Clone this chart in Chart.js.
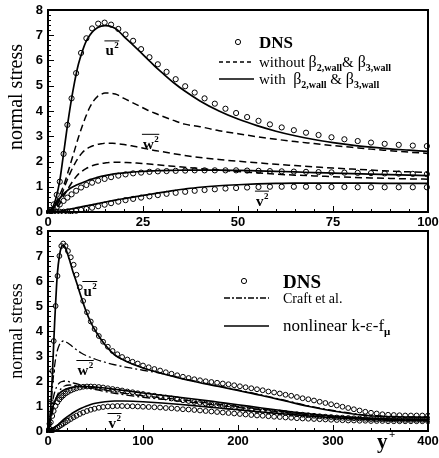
<!DOCTYPE html>
<html>
<head>
<meta charset="utf-8">
<script src="https://cdn.jsdelivr.net/npm/chart.js@4.4.0/dist/chart.umd.min.js"></script>
<style>
  html, body { margin: 0; padding: 0; background: #fff; }
  #wrap { position: relative; width: 439px; height: 458px; overflow: hidden; }
  canvas { position: absolute; left: 0; }
  #chart-top { top: 0; }
  #chart-bottom { top: 221px; }
</style>
</head>
<body>
<div id="wrap">
  <canvas id="chart-top" width="439" height="229"></canvas>
  <canvas id="chart-bottom" width="439" height="237"></canvas>
</div>
<script>
// ============================================================
// DATA — top panel (y+ 0..100)
// ============================================================
const TOP_DNS_X = [0.3, 0.8, 1.5, 2.3, 3.1, 4.1, 5.1, 6.2, 7.4, 8.7,
  10.1, 11.6, 13.2, 14.9, 16.6, 18.5, 20.4, 22.4, 24.5, 26.7,
  28.9, 31.2, 33.6, 36.1, 38.6, 41.2, 43.9, 46.7, 49.5, 52.4,
  55.4, 58.4, 61.5, 64.7, 67.9, 71.2, 74.6, 78, 81.5, 85,
  88.6, 92.3, 96, 99.7];
const TOP_DNS_U = [0.01, 0.08, 0.3, 0.68, 1.2, 2.3, 3.45, 4.5, 5.5, 6.3,
  6.88, 7.27, 7.46, 7.5, 7.42, 7.25, 7.03, 6.78, 6.45, 6.13,
  5.85, 5.55, 5.26, 4.98, 4.73, 4.5, 4.29, 4.09, 3.92, 3.76,
  3.61, 3.47, 3.35, 3.24, 3.14, 3.05, 2.96, 2.88, 2.81, 2.75,
  2.7, 2.66, 2.63, 2.61];
const TOP_DNS_W = [0, 0.03, 0.1, 0.2, 0.3, 0.44, 0.57, 0.7, 0.84, 0.97,
  1.07, 1.16, 1.24, 1.31, 1.38, 1.44, 1.49, 1.53, 1.56, 1.59,
  1.61, 1.62, 1.63, 1.64, 1.65, 1.65, 1.65, 1.65, 1.65, 1.64,
  1.63, 1.62, 1.61, 1.6, 1.59, 1.58, 1.57, 1.56, 1.55, 1.54,
  1.53, 1.52, 1.51, 1.5];
const TOP_DNS_V = [0, 0, 0, 0, 0.01, 0.01, 0.02, 0.03, 0.05, 0.08,
  0.12, 0.17, 0.23, 0.29, 0.35, 0.41, 0.47, 0.52, 0.57, 0.62,
  0.67, 0.72, 0.76, 0.8, 0.84, 0.87, 0.9, 0.93, 0.95, 0.97,
  0.99, 1.0, 1.0, 1.0, 1.0, 0.99, 0.99, 0.99, 0.98, 0.98,
  0.98, 0.98, 0.98, 0.98];

const TOP_LINE_X = [0, 1, 2, 3, 4, 5, 6, 7, 8, 9,
  10, 11, 12, 13, 14, 15, 16, 17, 18, 20,
  22, 24, 26, 28, 30, 33, 36, 40, 45, 50,
  55, 60, 65, 70, 75, 80, 85, 90, 95, 100];
// with beta_2,wall & beta_3,wall (solid)
const TOP_WITH_U = [0, 0.12, 0.5, 1.15, 2.2, 3.3, 4.3, 5.15, 5.85, 6.35,
  6.75, 7.0, 7.18, 7.3, 7.36, 7.38, 7.37, 7.32, 7.24, 6.95,
  6.67, 6.38, 6.08, 5.79, 5.52, 5.13, 4.79, 4.4, 4.0, 3.68,
  3.42, 3.2, 3.02, 2.87, 2.75, 2.65, 2.57, 2.5, 2.45, 2.4];
const TOP_WITH_W = [0, 0.08, 0.3, 0.52, 0.7, 0.84, 0.95, 1.03, 1.1, 1.16,
  1.22, 1.28, 1.32, 1.37, 1.41, 1.44, 1.47, 1.5, 1.52, 1.55,
  1.58, 1.6, 1.62, 1.63, 1.64, 1.65, 1.66, 1.66, 1.66, 1.65,
  1.63, 1.61, 1.59, 1.56, 1.54, 1.52, 1.5, 1.48, 1.46, 1.44];
const TOP_WITH_V = [0, 0, 0.01, 0.03, 0.06, 0.09, 0.12, 0.15, 0.18, 0.21,
  0.24, 0.27, 0.3, 0.33, 0.36, 0.39, 0.42, 0.45, 0.48, 0.53,
  0.58, 0.63, 0.68, 0.73, 0.78, 0.85, 0.91, 0.98, 1.04, 1.08,
  1.11, 1.13, 1.14, 1.14, 1.14, 1.14, 1.14, 1.13, 1.13, 1.13];
// without the wall terms (dashed)
const TOP_WITHOUT_U = [0, 0.1, 0.35, 0.65, 1.0, 1.45, 1.95, 2.45, 2.95, 3.4,
  3.8, 4.15, 4.4, 4.57, 4.66, 4.71, 4.71, 4.69, 4.66, 4.5,
  4.35, 4.2, 4.05, 3.92, 3.8, 3.63, 3.48, 3.38, 3.22, 3.1,
  2.98, 2.88, 2.79, 2.71, 2.63, 2.56, 2.49, 2.43, 2.37, 2.32];
const TOP_WITHOUT_W = [0, 0.05, 0.2, 0.45, 0.85, 1.25, 1.6, 1.9, 2.15, 2.35,
  2.48, 2.57, 2.63, 2.68, 2.7, 2.72, 2.72, 2.72, 2.71, 2.67,
  2.62, 2.56, 2.5, 2.44, 2.39, 2.31, 2.24, 2.16, 2.08, 2.01,
  1.95, 1.89, 1.84, 1.79, 1.74, 1.7, 1.66, 1.62, 1.59, 1.56];
const TOP_WITHOUT_V = [0, 0.03, 0.12, 0.3, 0.6, 0.85, 1.1, 1.32, 1.5, 1.62,
  1.72, 1.79, 1.85, 1.89, 1.92, 1.94, 1.96, 1.97, 1.97, 1.96,
  1.95, 1.93, 1.91, 1.88, 1.85, 1.81, 1.77, 1.72, 1.66, 1.6,
  1.55, 1.5, 1.46, 1.43, 1.4, 1.37, 1.35, 1.33, 1.31, 1.3];

// ============================================================
// DATA — bottom panel (y+ 0..400)
// ============================================================
const BOT_DNS_X = [0.5, 1.5, 3, 4.5, 6, 8, 10, 12, 14, 16,
  18.5, 21, 24, 27, 30, 33.5, 37, 41, 45, 49,
  53.5, 58, 63, 68, 73, 78, 83.5, 89, 94.5, 100,
  106, 112, 118, 124, 130, 136, 142, 148, 154, 160,
  166, 172, 178, 184, 190, 196, 202, 208, 214, 220,
  226, 232, 238, 244, 250, 256, 262, 268, 274, 280,
  286, 292, 298, 304, 310, 316, 322, 328, 334, 340,
  346, 352, 358, 364, 370, 376, 382, 388, 394, 400];
const BOT_DNS_U = [0.03, 0.29, 1.17, 2.4, 3.6, 5.0, 6.2, 7.0, 7.4, 7.5,
  7.4, 7.2, 6.95, 6.65, 6.25, 5.75, 5.2, 4.75, 4.38, 4.08,
  3.8, 3.57, 3.37, 3.2, 3.07, 2.96, 2.86, 2.77, 2.7, 2.62,
  2.55, 2.48, 2.42, 2.35, 2.29, 2.23, 2.17, 2.12, 2.07, 2.03,
  1.99, 1.96, 1.93, 1.9, 1.87, 1.83, 1.79, 1.75, 1.71, 1.67,
  1.63, 1.58, 1.54, 1.5, 1.45, 1.41, 1.36, 1.31, 1.27, 1.22,
  1.17, 1.12, 1.07, 1.02, 0.97, 0.92, 0.87, 0.82, 0.77, 0.73,
  0.7, 0.67, 0.65, 0.64, 0.63, 0.62, 0.62, 0.62, 0.62, 0.62];
const BOT_DNS_W = [0.01, 0.1, 0.35, 0.6, 0.8, 1.0, 1.15, 1.26, 1.35, 1.42,
  1.5, 1.56, 1.62, 1.67, 1.71, 1.74, 1.77, 1.78, 1.78, 1.77,
  1.76, 1.74, 1.71, 1.68, 1.65, 1.62, 1.58, 1.55, 1.51, 1.48,
  1.44, 1.41, 1.37, 1.34, 1.3, 1.27, 1.23, 1.2, 1.16, 1.13,
  1.1, 1.07, 1.03, 1.0, 0.97, 0.94, 0.91, 0.88, 0.85, 0.82,
  0.8, 0.78, 0.76, 0.74, 0.72, 0.69, 0.67, 0.65, 0.63, 0.61,
  0.59, 0.57, 0.56, 0.54, 0.53, 0.52, 0.51, 0.5, 0.49, 0.48,
  0.47, 0.47, 0.46, 0.46, 0.45, 0.45, 0.45, 0.45, 0.45, 0.45];
const BOT_DNS_V = [0, 0, 0.01, 0.03, 0.05, 0.09, 0.14, 0.19, 0.24, 0.29,
  0.35, 0.41, 0.48, 0.55, 0.61, 0.68, 0.74, 0.8, 0.85, 0.89,
  0.93, 0.96, 0.98, 0.99, 1.0, 1.0, 0.99, 0.99, 0.98, 0.97,
  0.96, 0.95, 0.94, 0.92, 0.91, 0.89, 0.87, 0.86, 0.84, 0.82,
  0.8, 0.78, 0.76, 0.74, 0.72, 0.7, 0.68, 0.66, 0.64, 0.62,
  0.61, 0.59, 0.57, 0.56, 0.54, 0.53, 0.51, 0.5, 0.49, 0.48,
  0.47, 0.46, 0.45, 0.44, 0.43, 0.42, 0.42, 0.41, 0.41, 0.4,
  0.4, 0.4, 0.39, 0.39, 0.39, 0.39, 0.39, 0.39, 0.39, 0.39];

const BOT_LINE_X = [0, 1, 2, 3, 4, 5, 6, 7, 8, 9,
  10, 12, 14, 16, 18, 20, 23, 26, 30, 35,
  40, 45, 50, 60, 70, 80, 90, 100, 120, 140,
  160, 180, 200, 225, 250, 275, 300, 325, 350, 375,
  400];
// nonlinear k-eps-f_mu (solid)
const BOT_NL_U = [0, 0.1, 0.45, 1.0, 1.75, 2.6, 3.5, 4.35, 5.1, 5.8,
  6.35, 7.0, 7.35, 7.42, 7.35, 7.15, 6.8, 6.4, 5.95, 5.35,
  4.8, 4.35, 4.0, 3.45, 3.05, 2.83, 2.66, 2.52, 2.3, 2.1,
  1.93, 1.78, 1.62, 1.42, 1.2, 0.98, 0.8, 0.66, 0.58, 0.56,
  0.55];
const BOT_NL_W = [0, 0.12, 0.35, 0.58, 0.78, 0.95, 1.08, 1.18, 1.27, 1.34,
  1.4, 1.5, 1.57, 1.62, 1.66, 1.69, 1.73, 1.75, 1.77, 1.78,
  1.78, 1.77, 1.76, 1.72, 1.67, 1.62, 1.57, 1.52, 1.43, 1.34,
  1.25, 1.15, 1.05, 0.92, 0.8, 0.69, 0.6, 0.54, 0.5, 0.48,
  0.47];
const BOT_NL_V = [0, 0, 0.01, 0.03, 0.05, 0.08, 0.11, 0.14, 0.17, 0.2,
  0.23, 0.3, 0.37, 0.44, 0.5, 0.56, 0.64, 0.72, 0.81, 0.91,
  0.99, 1.06, 1.11, 1.17, 1.2, 1.2, 1.19, 1.17, 1.12, 1.06,
  0.99, 0.92, 0.85, 0.76, 0.68, 0.6, 0.53, 0.48, 0.44, 0.42,
  0.41];
// Craft et al. (dash-dot)
const BOT_CRAFT_A = [0, 0.15, 0.5, 0.95, 1.45, 1.9, 2.3, 2.62, 2.88, 3.08,
  3.24, 3.45, 3.56, 3.6, 3.58, 3.54, 3.46, 3.37, 3.25, 3.12,
  3.02, 2.94, 2.87, 2.75, 2.65, 2.57, 2.5, 2.43, 2.3, 2.12,
  1.95, 1.8, 1.64, 1.44, 1.22, 1.0, 0.82, 0.68, 0.6, 0.57,
  0.56];
const BOT_CRAFT_B = [0, 0.1, 0.35, 0.65, 0.95, 1.2, 1.4, 1.55, 1.67, 1.76,
  1.83, 1.92, 1.97, 1.99, 2.0, 1.99, 1.96, 1.93, 1.89, 1.84,
  1.8, 1.76, 1.72, 1.64, 1.57, 1.51, 1.46, 1.41, 1.33, 1.25,
  1.16, 1.07, 0.98, 0.87, 0.76, 0.66, 0.58, 0.52, 0.48, 0.46,
  0.45];
const BOT_CRAFT_C = [0, 0.05, 0.2, 0.4, 0.6, 0.8, 0.97, 1.12, 1.25, 1.36,
  1.45, 1.6, 1.7, 1.77, 1.81, 1.83, 1.84, 1.83, 1.81, 1.78,
  1.74, 1.7, 1.66, 1.58, 1.51, 1.45, 1.4, 1.35, 1.27, 1.19,
  1.11, 1.02, 0.94, 0.84, 0.74, 0.64, 0.57, 0.51, 0.47, 0.45,
  0.44];

// ============================================================
// Shared styles
// ============================================================
const SANS = "'Liberation Sans', Arial, Helvetica, sans-serif";
const SERIF = "'Liberation Serif', 'Times New Roman', Times, serif";
const tickFont = { family: SANS, size: 13, weight: "bold" };

const pts = (xs, ys) => xs.map((x, i) => ({ x, y: ys[i] }));

function dns(xs, ys, r) {
  return {
    data: pts(xs, ys), showLine: false,
    pointStyle: "circle", pointRadius: r, pointBorderWidth: 1,
    pointBorderColor: "#000", pointBackgroundColor: "rgba(0,0,0,0)"
  };
}
function curve(xs, ys, dash, width) {
  return {
    data: pts(xs, ys), showLine: true, pointRadius: 0,
    borderColor: "#000", borderWidth: width, borderDash: dash,
    cubicInterpolationMode: "monotone", fill: false
  };
}

// ============================================================
// Text helpers (subscripts, overlined labels)
// ============================================================
function drawParts(ctx, parts, x, y) {
  parts.forEach(([t, size, weight, dy]) => {
    ctx.font = `${weight} ${size}px ${SERIF}`;
    ctx.fillText(t, x, y + dy);
    x += ctx.measureText(t).width;
  });
  return x;
}

function drawOverlined(ctx, letter, cx, cy) {
  ctx.font = `bold 15px ${SERIF}`;
  const w1 = ctx.measureText(letter).width;
  ctx.font = `bold 9px ${SERIF}`;
  const w2 = ctx.measureText("2").width;
  const left = cx - (w1 + w2) / 2;
  ctx.font = `bold 15px ${SERIF}`;
  ctx.fillText(letter, left, cy + 5);
  ctx.font = `bold 9px ${SERIF}`;
  ctx.fillText("2", left + w1 + 0.5, cy - 2);
  ctx.lineWidth = 1;
  ctx.setLineDash([]);
  ctx.beginPath();
  ctx.moveTo(left - 1, cy - 9.5);
  ctx.lineTo(left + w1 + w2 + 1, cy - 9.5);
  ctx.stroke();
}

function seg(ctx, x1, y1, x2, y2) {
  ctx.beginPath(); ctx.moveTo(x1, y1); ctx.lineTo(x2, y2); ctx.stroke();
}

// ============================================================
// Plugin: frame, inward ticks, axis title, legend, curve labels
// ============================================================
const panelDecor = {
  id: "panelDecor",
  afterDraw(chart, args, o) {
    const { ctx, chartArea: a, scales: { x, y } } = chart;
    ctx.save();
    ctx.strokeStyle = "#000";
    ctx.fillStyle = "#000";

    // inward ticks
    ctx.lineWidth = 1;
    for (let v = 0; v <= x.max + 1e-9; v += o.xMinor) {
      const px = Math.round(x.getPixelForValue(v)) + 0.5;
      const major = Math.abs(v / o.xMajor - Math.round(v / o.xMajor)) < 1e-6;
      seg(ctx, px, a.bottom, px, a.bottom - (major ? 6 : 3));
    }
    for (let v = 0; v <= y.max + 1e-9; v += o.yMinor) {
      const py = Math.round(y.getPixelForValue(v)) + 0.5;
      const major = Math.abs(v - Math.round(v)) < 1e-6;
      seg(ctx, a.left, py, a.left + (major ? 6 : 3), py);
    }

    // frame
    ctx.lineWidth = 2;
    ctx.strokeRect(a.left, a.top, a.right - a.left, a.bottom - a.top);

    // y axis title
    ctx.save();
    ctx.translate(o.title.x, o.title.y);
    ctx.rotate(-Math.PI / 2);
    ctx.font = `${o.title.size}px ${SERIF}`;
    ctx.textAlign = "center";
    ctx.textBaseline = "middle";
    ctx.fillText("normal stress", 0, 0);
    ctx.restore();

    ctx.textAlign = "left";
    ctx.textBaseline = "alphabetic";

    // legend
    const L = o.legend;
    ctx.lineWidth = 1;
    ctx.setLineDash([]);
    ctx.beginPath();
    ctx.arc(L.markX, L.row1, 2.6, 0, Math.PI * 2);
    ctx.stroke();
    drawParts(ctx, [["DNS", L.dnsSize, "bold", 0]], L.textX, L.row1 + L.dnsSize * 0.35);
    ctx.lineWidth = 1.3;
    ctx.setLineDash(L.dash2);
    seg(ctx, L.lineX1, L.row2, L.lineX2, L.row2);
    ctx.setLineDash([]);
    ctx.lineWidth = 1.6;
    seg(ctx, L.lineX1, L.row3, L.lineX2, L.row3);
    drawParts(ctx, L.text2, L.textX, L.row2 + 5);
    drawParts(ctx, L.text3, L.textX, L.row3 + 5);

    // curve labels
    o.labels.forEach(l => {
      drawOverlined(ctx, l.t, x.getPixelForValue(l.x), y.getPixelForValue(l.y));
    });

    // x axis label (bottom panel only)
    if (o.xLabel) {
      drawParts(ctx, [["y", 21, "bold", 0]], o.xLabel.x, o.xLabel.y);
      drawParts(ctx, [["+", 11, "bold", 0]], o.xLabel.x + 12, o.xLabel.y - 10);
    }
    ctx.restore();
  }
};

function axes(xMax, xStep, xHeight) {
  return {
    x: {
      type: "linear", min: 0, max: xMax,
      ticks: { stepSize: xStep, color: "#000", font: tickFont, padding: 3, maxRotation: 0 },
      grid: { display: false, drawTicks: false },
      border: { display: false },
      afterFit(s) { s.height = xHeight; s.paddingLeft = 0; s.paddingRight = 0; }
    },
    y: {
      type: "linear", min: 0, max: 8,
      ticks: { stepSize: 1, color: "#000", font: tickFont, padding: 5 },
      grid: { display: false, drawTicks: false },
      border: { display: false },
      afterFit(s) { s.width = 48; s.paddingTop = 0; s.paddingBottom = 0; }
    }
  };
}

function baseOptions(extra) {
  return {
    responsive: false,
    animation: false,
    devicePixelRatio: 1,
    clip: 2,
    ...extra
  };
}

// ============================================================
// TOP PANEL
// ============================================================
const dashA = [7, 4];
new Chart(document.getElementById("chart-top"), {
  type: "scatter",
  data: {
    datasets: [
      curve(TOP_LINE_X, TOP_WITHOUT_U, dashA, 1.5),
      curve(TOP_LINE_X, TOP_WITHOUT_W, dashA, 1.5),
      curve(TOP_LINE_X, TOP_WITHOUT_V, dashA, 1.5),
      curve(TOP_LINE_X, TOP_WITH_U, [], 1.7),
      curve(TOP_LINE_X, TOP_WITH_W, [], 1.7),
      curve(TOP_LINE_X, TOP_WITH_V, [], 1.7),
      dns(TOP_DNS_X, TOP_DNS_U, 2.6),
      dns(TOP_DNS_X, TOP_DNS_W, 2.6),
      dns(TOP_DNS_X, TOP_DNS_V, 2.6)
    ]
  },
  options: baseOptions({
    layout: { padding: { top: 10, right: 11, left: 0, bottom: 0 } },
    scales: axes(100, 25, 17),
    plugins: {
      legend: { display: false },
      tooltip: { enabled: false },
      panelDecor: {
        xMajor: 25, xMinor: 5, yMinor: 0.2,
        title: { x: 17, y: 97, size: 20 },
        legend: {
          markX: 238, textX: 259, lineX1: 219, lineX2: 254,
          row1: 42, row2: 62, row3: 79, dnsSize: 17, dash2: [4, 3],
          text2: [["without ", 15, "normal", 0], ["\u03b2", 16, "normal", 0], ["2,wall", 10, "bold", 4],
                  ["&", 15, "normal", 0], [" \u03b2", 16, "normal", 0], ["3,wall", 10, "bold", 4]],
          text3: [["with  ", 15, "normal", 0], ["\u03b2", 16, "normal", 0], ["2,wall", 10, "bold", 4],
                  [" & ", 15, "normal", 0], ["\u03b2", 16, "normal", 0], ["3,wall", 10, "bold", 4]]
        },
        labels: [
          { t: "u", x: 16.8, y: 6.4 },
          { t: "w", x: 27, y: 2.7 },
          { t: "v", x: 56.3, y: 0.45 }
        ]
      }
    }
  }),
  plugins: [panelDecor]
});

// ============================================================
// BOTTOM PANEL
// ============================================================
const dashDot = [8, 3, 2, 3];
new Chart(document.getElementById("chart-bottom"), {
  type: "scatter",
  data: {
    datasets: [
      curve(BOT_LINE_X, BOT_CRAFT_A, dashDot, 1.3),
      curve(BOT_LINE_X, BOT_CRAFT_B, dashDot, 1.3),
      curve(BOT_LINE_X, BOT_CRAFT_C, dashDot, 1.3),
      curve(BOT_LINE_X, BOT_NL_U, [], 1.7),
      curve(BOT_LINE_X, BOT_NL_W, [], 1.7),
      curve(BOT_LINE_X, BOT_NL_V, [], 1.7),
      dns(BOT_DNS_X, BOT_DNS_U, 2.4),
      dns(BOT_DNS_X, BOT_DNS_W, 2.4),
      dns(BOT_DNS_X, BOT_DNS_V, 2.4)
    ]
  },
  options: baseOptions({
    layout: { padding: { top: 10, right: 11, left: 0, bottom: 0 } },
    scales: axes(400, 100, 27),
    plugins: {
      legend: { display: false },
      tooltip: { enabled: false },
      panelDecor: {
        xMajor: 100, xMinor: 20, yMinor: 0.2,
        title: { x: 17, y: 110, size: 18 },
        legend: {
          markX: 244, textX: 283, lineX1: 224, lineX2: 269,
          row1: 60, row2: 77, row3: 105, dnsSize: 19, dash2: [6, 2, 2, 2],
          text2: [["Craft et al.", 14, "normal", 0]],
          text3: [["nonlinear k-\u03b5-f", 17, "normal", 0], ["\u03bc", 11, "bold", 4]]
        },
        labels: [
          { t: "u", x: 44, y: 5.6 },
          { t: "w", x: 39, y: 2.44 },
          { t: "v", x: 70, y: 0.32 }
        ],
        xLabel: { x: 377, y: 227 }
      }
    }
  }),
  plugins: [panelDecor]
});
</script>
</body>
</html>
